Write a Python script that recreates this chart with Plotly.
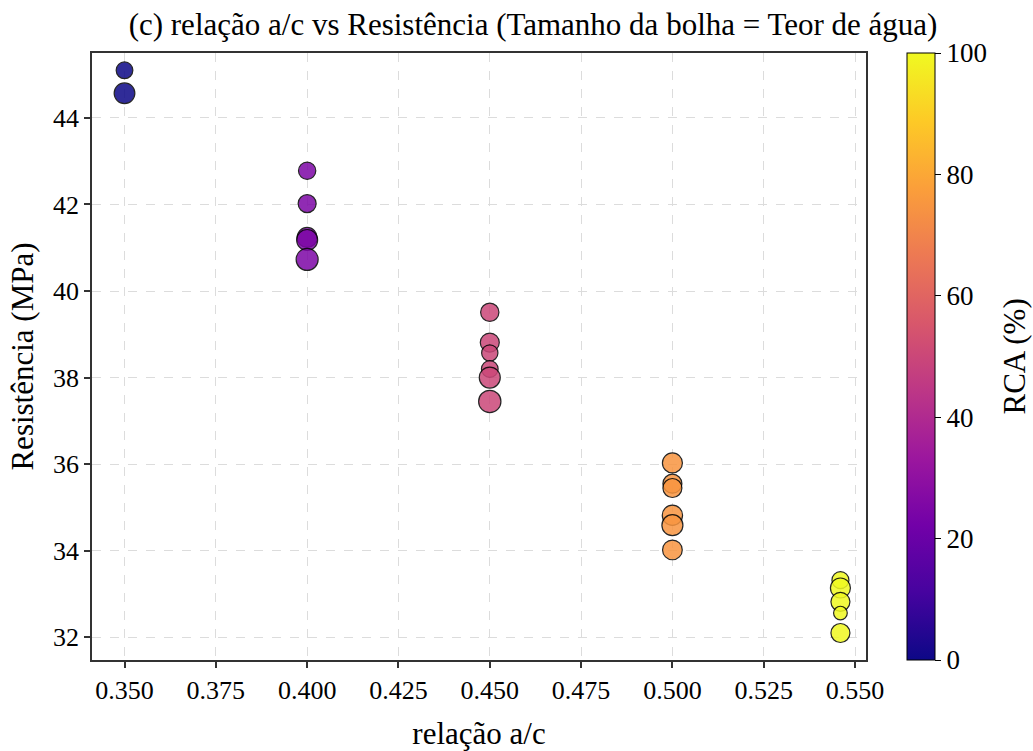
import plotly.graph_objects as go

# Data
ac_ratio = [0.35, 0.35,
            0.40, 0.40, 0.40, 0.40, 0.40,
            0.45, 0.45, 0.45, 0.45, 0.45, 0.45,
            0.50, 0.50, 0.50, 0.50, 0.50, 0.50,
            0.546, 0.546, 0.546, 0.546, 0.546]
resistencia = [45.10, 44.57,
               42.78, 42.02, 41.24, 41.18, 40.73,
               39.51, 38.81, 38.57, 38.20, 38.00, 37.45,
               36.03, 35.55, 35.45, 34.82, 34.59, 34.02,
               33.32, 33.14, 32.82, 32.56, 32.10]
rca = [0, 0,
       25, 25, 25, 25, 25,
       50, 50, 50, 50, 50, 50,
       75, 75, 75, 75, 75, 75,
       100, 100, 100, 100, 100]
teor_agua = [167, 207,
             173, 180, 200, 210, 220,
             183, 190, 163, 167, 210, 223,
             200, 190, 190, 203, 210, 197,
             170, 200, 190, 137, 190]

x_ticks = [0.350, 0.375, 0.400, 0.425, 0.450, 0.475, 0.500, 0.525, 0.550]
y_ticks = [32, 34, 36, 38, 40, 42, 44]
cb_ticks = [0, 20, 40, 60, 80, 100]

FONT = "Liberation Serif"
sizes = [w / 10.0 for w in teor_agua]

fig = go.Figure()
fig.add_trace(go.Scatter(
    x=ac_ratio, y=resistencia, mode="markers",
    marker=dict(
        size=sizes, color=rca, colorscale="Plasma", cmin=0, cmax=100,
        opacity=0.85, line=dict(color="black", width=1.2),
        colorbar=dict(
            tickvals=cb_ticks, ticks="outside", ticklen=6, tickwidth=1.2, tickcolor="black",
            tickfont=dict(family=FONT, size=27, color="black"),
            thickness=28, len=1, lenmode="fraction", y=0.5, yanchor="middle",
            x=1.053, xanchor="left", xpad=0, ypad=0,
            outlinecolor="black", outlinewidth=1,
        ),
    ),
    showlegend=False,
))

axis_common = dict(
    showline=True, linecolor="#333333", linewidth=1.5, mirror=True,
    ticks="outside", ticklen=6, tickwidth=1.5, tickcolor="#333333",
    showgrid=True, gridcolor="#dcdcdc", griddash="dash", gridwidth=1,
    zeroline=False, automargin=False,
    tickfont=dict(family=FONT, size=26, color="black"),
)

fig.update_layout(
    width=1033, height=751,
    margin=dict(l=92, r=167, t=53, b=91, autoexpand=False),
    paper_bgcolor="white", plot_bgcolor="white",
    title=dict(text="(c) relação a/c vs Resistência (Tamanho da bolha = Teor de água)",
               font=dict(family=FONT, size=31, color="black"),
               x=0.516, xanchor="center", xref="container", y=0.968, yanchor="middle"),
    xaxis=dict(range=[0.3411, 0.5530], tickvals=x_ticks, ticktext=[f"{v:.3f}" for v in x_ticks],
               title=dict(text="relação a/c", font=dict(family=FONT, size=31, color="black"), standoff=18),
               **axis_common),
    yaxis=dict(range=[31.476, 45.50], tickvals=y_ticks,
               title=dict(text="Resistência (MPa)", font=dict(family=FONT, size=31, color="black"), standoff=10),
               **axis_common),
    annotations=[dict(text="RCA (%)", textangle=-90, xref="paper", yref="paper",
                      x=1.1925, y=0.5, xanchor="center", yanchor="middle", showarrow=False,
                      font=dict(family=FONT, size=31, color="black"))],
)

fig.write_html("out.html")
